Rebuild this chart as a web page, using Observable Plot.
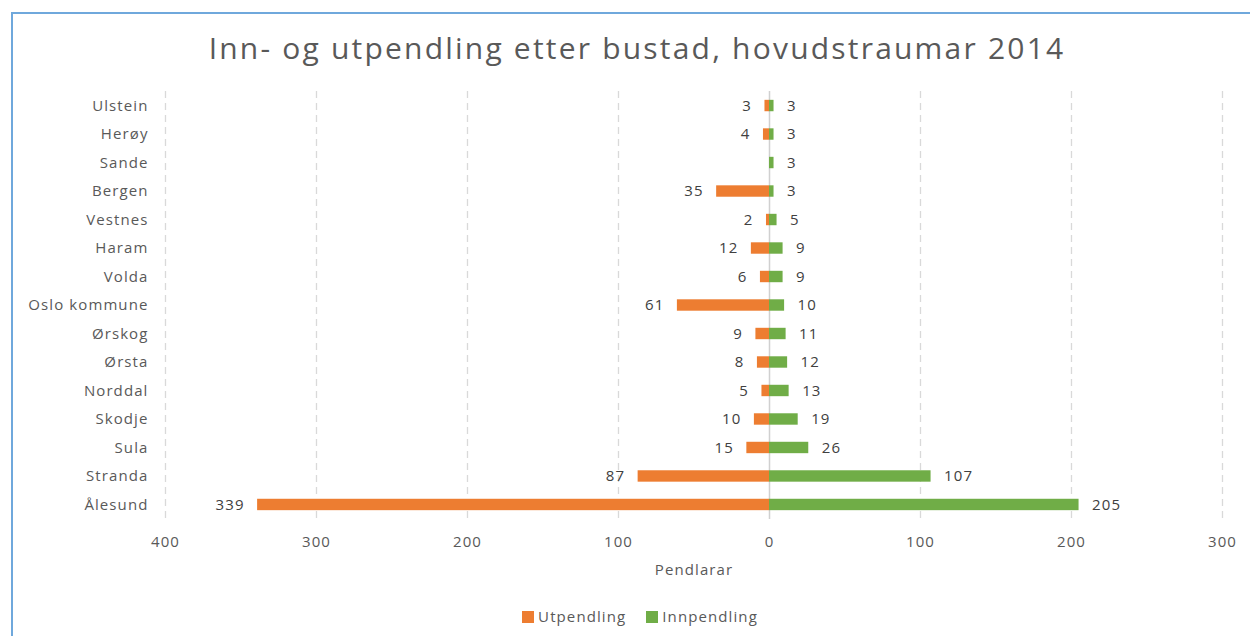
<!DOCTYPE html>
<html><head><meta charset="utf-8">
<script src="https://cdn.jsdelivr.net/npm/d3@7"></script>
<script src="https://cdn.jsdelivr.net/npm/@observablehq/plot@0.6"></script>
<style>
body{margin:0;background:#fff;font-family:"Open Sans",sans-serif;width:1250px;height:636px;overflow:hidden;position:relative}
#border{position:absolute;left:11px;top:12px;width:1270px;height:700px;border:2px solid #6FA8DC;box-sizing:border-box}
#title{position:absolute;left:0;width:1274px;top:28px;line-height:40px;text-align:center;font-size:30px;letter-spacing:2.2px;color:#595959;white-space:nowrap}
#chart{position:absolute;left:0;top:80px}
#chart svg{letter-spacing:1.1px}
#legend{position:absolute;left:0;width:1280px;top:606px;line-height:20px;display:flex;justify-content:center;gap:20px;font-size:15px;color:#595959;letter-spacing:1.1px}
#legend span.sw{display:inline-block;width:12px;height:12px;margin-right:4px;vertical-align:-1px}
</style></head>
<body>
<div id="border"></div>
<div id="title">Inn- og utpendling etter bustad, hovudstraumar 2014</div>
<div id="chart"></div>
<div id="legend"></div>
<script>
const categories = ["Ulstein","Herøy","Sande","Bergen","Vestnes","Haram","Volda","Oslo kommune","Ørskog","Ørsta","Norddal","Skodje","Sula","Stranda","Ålesund"];
const utpendling = [3,4,null,35,2,12,6,61,9,8,5,10,15,87,339];
const innpendling = [3,3,3,3,5,9,9,10,11,12,13,19,26,107,205];
const xTicks = [-400,-300,-200,-100,0,100,200,300];
const xLabel = "Pendlarar";
const seriesNames = ["Utpendling","Innpendling"];
const seriesColors = ["#ED7D31","#70AD47"];

const ut = categories.map((c,i)=>({cat:c, v:utpendling[i]})).filter(d=>d.v!=null);
const inn = categories.map((c,i)=>({cat:c, v:innpendling[i]}));
const gridTicks = xTicks.filter(t=>t!==0);

const chart = Plot.plot({
  width:1250, height:510,
  marginLeft:165, marginRight:28, marginTop:11, marginBottom:71,
  style:{fontFamily:"'Open Sans',sans-serif", fontSize:"15px", color:"#595959", background:"transparent"},
  x:{domain:[-400,300], ticks:xTicks, tickFormat:d=>Math.abs(d), tickSize:0, tickPadding:17, label:null},
  y:{domain:categories, paddingInner:0.6, paddingOuter:0.31, round:false, tickSize:0, tickPadding:17, label:null},
  marks:[
    Plot.ruleX(gridTicks,{stroke:"#D9D9D9", strokeWidth:1.3, strokeDasharray:"7,5"}),
    Plot.ruleX([0],{stroke:"#D0D0D0", strokeWidth:1.5}),
    Plot.barX(ut,{y:"cat", x1:0, x2:d=>-d.v, fill:seriesColors[0]}),
    Plot.barX(inn,{y:"cat", x1:0, x2:d=>d.v, fill:seriesColors[1]}),
    Plot.text(ut,{y:"cat", x:d=>-d.v, text:d=>String(d.v), dx:-13, textAnchor:"end", fill:"#404040", fontSize:15}),
    Plot.text(inn,{y:"cat", x:d=>d.v, text:d=>String(d.v), dx:13, textAnchor:"start", fill:"#404040", fontSize:15}),
    Plot.text([xLabel],{text:d=>d, frameAnchor:"bottom", dy:55, fill:"#595959", fontSize:15})
  ]
});
document.getElementById("chart").appendChild(chart);

const lg = document.getElementById("legend");
seriesNames.forEach((n,i)=>{
  const s=document.createElement("span");
  s.innerHTML=`<span class="sw" style="background:${seriesColors[i]}"></span>${n}`;
  lg.appendChild(s);
});
</script>
</body></html>
